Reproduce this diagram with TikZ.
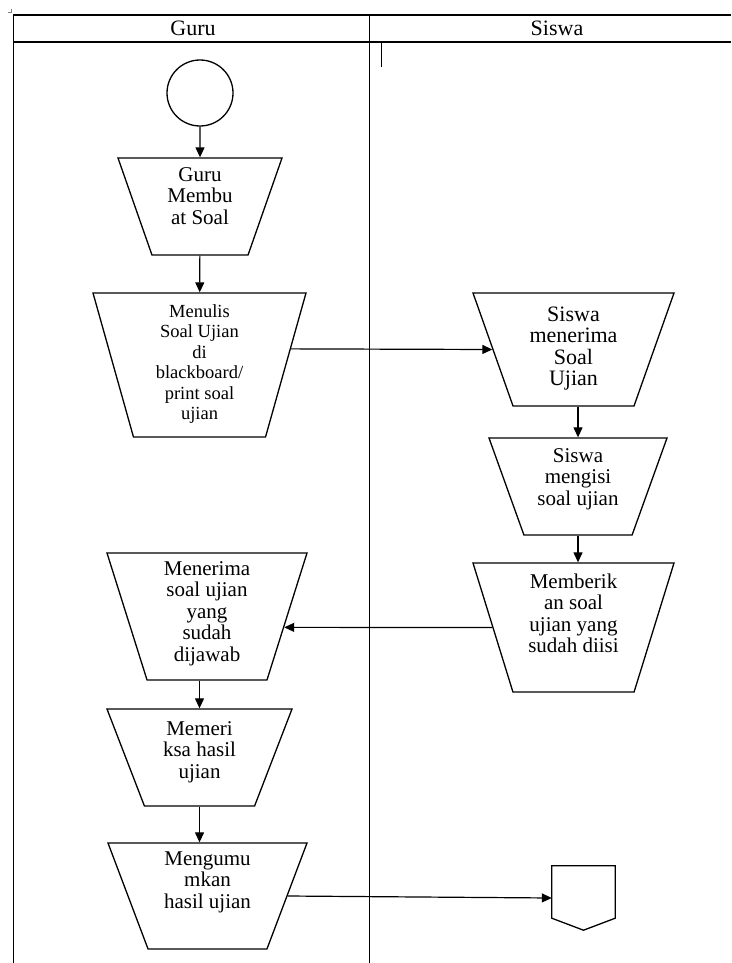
\documentclass[tikz,border=0pt]{standalone}
\usepackage{fontspec}
\setmainfont{Liberation Serif}
\usetikzlibrary{shapes.geometric,arrows.meta}

\begin{document}
\begin{tikzpicture}[x=1pt, y=-1pt,
    lane/.style={draw=black, line width=1.5pt},
    head/.style={font=\fontsize{22}{24}\selectfont, inner sep=0pt},
    startnode/.style={circle, draw, line width=1.3pt, minimum size=66pt, inner sep=0pt},
    manual/.style={trapezium, shape border rotate=180, trapezium stretches body,
      draw, line width=1.3pt, inner sep=0pt, align=center,
      font=\fontsize{21}{21.5}\selectfont},
    offpage/.style={draw=none, minimum width=63pt, minimum height=52pt, inner sep=0pt},
    arr/.style={draw, line width=1.2pt, -{Triangle[length=10pt,width=9pt]}},
  ]

  \useasboundingbox (0,0) rectangle (731,963);

  % ---------- swimlanes
  \draw[lane] (13.5,963) -- (13.5,15) -- (731,15);
  \draw[lane] (13.5,42) -- (731,42);
  \draw[lane] (369.5,15) -- (369.5,963);
  \node[head] (guru) at (193,28) {Guru};
  \node[head] (siswa) at (557,28) {Siswa};
  \draw[gray, line width=0.6pt] (8,12) -- (11,12) -- (11,9);
  \draw[line width=1pt] (381,43) -- (381,67);

  % ---------- Guru lane
  \node[startnode] (start) at (200,93) {};
  \node[manual, trapezium angle=70.7, minimum width=164pt, text height=66pt, text depth=31pt]
    (buat) at (200,206.5) {Guru\\Membu\\at Soal};
  \node[manual, trapezium angle=74.3, minimum width=213pt, text height=126.5pt, text depth=17.5pt,
    font=\fontsize{18.5}{20.5}\selectfont]
    (tulis) at (199.5,365) {Menulis\\Soal Ujian\\di\\blackboard/\\print soal\\ujian};
  \node[manual, trapezium angle=72.5, minimum width=200pt, text height=108pt, text depth=19pt]
    (diterima) at (207,616.5) {Menerima\\soal ujian\\yang\\sudah\\dijawab};
  \node[manual, trapezium angle=68.9, minimum width=185pt, text height=69pt, text depth=28pt]
    (periksa) at (199.5,757.5) {Memeri\\ksa hasil\\ujian};
  \node[manual, trapezium angle=69.3, minimum width=199pt, text height=65pt, text depth=41pt]
    (umum) at (207.5,896) {Mengumu\\mkan\\hasil ujian};

  % ---------- Siswa lane
  \node[manual, trapezium angle=70.5, minimum width=201pt, text height=92.4pt, text depth=20.6pt,
    font=\fontsize{22}{21.3}\selectfont]
    (terima) at (573.5,349.5) {Siswa\\menerima\\Soal\\Ujian};
  \node[manual, trapezium angle=70.2, minimum width=178pt, text height=67pt, text depth=30pt]
    (isi) at (578,486.5) {Siswa\\mengisi\\soal ujian};
  \node[manual, trapezium angle=72.8, minimum width=201pt, text height=89.5pt, text depth=39.5pt]
    (kirim) at (573.5,627.5) {Memberik\\an soal\\ujian yang\\sudah diisi};
  \node[offpage] (off) at (583.5,892) {};
  \draw[line width=1.3pt] (off.north west) -- (off.north east) -- (off.south east)
    -- ([yshift=-12pt]off.south) -- (off.south west) -- cycle;

  % ---------- flow
  \draw[arr] (start) -- (buat);
  \draw[arr] (buat) -- (tulis);
  \draw[arr] (tulis.10) -- (terima.west);
  \draw[arr] (terima.south -| isi.north) -- (isi.north);
  \draw[arr] (isi.south) -- (isi.south |- kirim.north);
  \draw[arr] (kirim.west) -- (diterima.-8);
  \draw[arr] (diterima.south -| periksa.north) -- (periksa.north);
  \draw[arr] (periksa.south) -- (periksa.south |- umum.north);
  \draw[arr] (umum.east) -- ([yshift=-6pt]off.west);

\end{tikzpicture}
\end{document}
